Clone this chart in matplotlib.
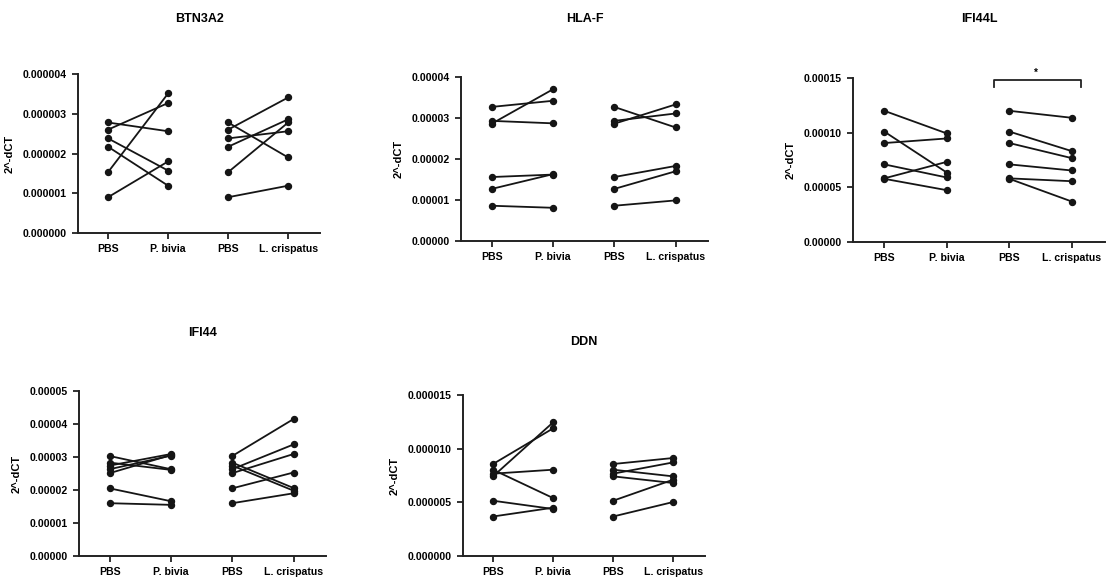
import matplotlib
matplotlib.use("Agg")
import matplotlib.pyplot as plt
from matplotlib.ticker import FormatStrFormatter

plt.rcParams['font.family'] = ['Liberation Sans', 'DejaVu Sans']
plt.rcParams['font.weight'] = 'bold'

groups = ["PBS", "P. bivia", "PBS", "L. crispatus"]

# paired values, one entry per sample
btn3a2_pbs = [2.78e-6, 2.60e-6, 2.38e-6, 2.17e-6, 1.53e-6, 0.90e-6]
btn3a2_bivia = [2.56e-6, 3.27e-6, 1.57e-6, 1.19e-6, 3.51e-6, 1.80e-6]
btn3a2_crisp = [1.90e-6, 3.41e-6, 2.56e-6, 2.86e-6, 2.78e-6, 1.19e-6]

hlaf_pbs = [3.27e-5, 2.93e-5, 2.86e-5, 1.56e-5, 1.27e-5, 0.86e-5]
hlaf_bivia = [3.42e-5, 2.87e-5, 3.70e-5, 1.62e-5, 1.63e-5, 0.81e-5]
hlaf_crisp = [2.77e-5, 3.11e-5, 3.33e-5, 1.83e-5, 1.70e-5, 0.99e-5]

ifi44l_pbs = [12.0e-5, 10.1e-5, 9.05e-5, 7.1e-5, 5.82e-5, 5.78e-5]
ifi44l_bivia = [9.93e-5, 6.35e-5, 9.47e-5, 5.90e-5, 7.33e-5, 4.74e-5]
ifi44l_crisp = [11.36e-5, 8.31e-5, 7.67e-5, 6.54e-5, 5.56e-5, 3.70e-5]

ifi44_pbs = [3.03e-5, 2.83e-5, 2.74e-5, 2.63e-5, 2.51e-5, 2.05e-5, 1.60e-5]
ifi44_bivia = [2.63e-5, 2.61e-5, 3.09e-5, 3.04e-5, 3.06e-5, 1.66e-5, 1.55e-5]
ifi44_crisp = [4.15e-5, 2.06e-5, 1.98e-5, 3.38e-5, 3.09e-5, 2.53e-5, 1.90e-5]

ddn_pbs = [8.57e-6, 8.04e-6, 7.67e-6, 7.42e-6, 5.15e-6, 3.68e-6]
ddn_bivia = [11.89e-6, 5.40e-6, 8.04e-6, 12.45e-6, 4.38e-6, 4.50e-6]
ddn_crisp = [9.13e-6, 7.42e-6, 8.72e-6, 6.80e-6, 7.11e-6, 5.03e-6]

W, H = 1107, 578
fig = plt.figure(figsize=(W / 100, H / 100), dpi=100)


def panel(px_left, px_top, px_right, px_bottom, title, title_y, pbs, bivia, crisp,
          ymax, ystep, fmt):
    ax = fig.add_axes([px_left / W, 1 - px_bottom / H,
                       (px_right - px_left) / W, (px_bottom - px_top) / H])
    for a, b, c in zip(pbs, bivia, crisp):
        ax.plot([0, 1], [a, b], '-o', color='#151515', lw=1.3, ms=4.3)
        ax.plot([2, 3], [a, c], '-o', color='#151515', lw=1.3, ms=4.3)
    ax.set_xlim(-0.5, 3.53)
    ax.set_ylim(0, ymax)
    n = int(round(ymax / ystep))
    ax.set_yticks([i * ystep for i in range(n + 1)])
    ax.yaxis.set_major_formatter(FormatStrFormatter(fmt))
    ax.set_xticks(range(4))
    ax.set_xticklabels(groups)
    ax.tick_params(labelsize=7.6, width=1.3, length=4, color='#222', pad=4)
    for s in ['top', 'right']:
        ax.spines[s].set_visible(False)
    for s in ['left', 'bottom']:
        ax.spines[s].set_linewidth(1.4)
        ax.spines[s].set_color('#222')
    ax.set_ylabel("2^-dCT", fontsize=8, fontweight='bold', labelpad=6)
    fig.text((px_left + px_right) / 2 / W, 1 - title_y / H, title,
             ha='center', va='center', fontsize=9, fontweight='bold')
    return ax


panel(78, 74, 320, 233, "BTN3A2", 19, btn3a2_pbs, btn3a2_bivia, btn3a2_crisp,
      4e-6, 1e-6, '%.6f')
panel(461, 77, 708, 241, "HLA-F", 19, hlaf_pbs, hlaf_bivia, hlaf_crisp,
      4e-5, 1e-5, '%.5f')
ax3 = panel(853, 78, 1105, 242, "IFI44L", 19, ifi44l_pbs, ifi44l_bivia, ifi44l_crisp,
            1.5e-4, 5e-5, '%.5f')
panel(79, 391, 326, 556, "IFI44", 333, ifi44_pbs, ifi44_bivia, ifi44_crisp,
      5e-5, 1e-5, '%.5f')
panel(463, 395, 705, 556, "DDN", 342, ddn_pbs, ddn_bivia, ddn_crisp,
      1.5e-5, 5e-6, '%.6f')

# significance bracket over the L. crispatus pair
ax3.plot([1.75, 1.75, 3.15, 3.15], [1.418e-4, 1.484e-4, 1.484e-4, 1.418e-4],
         color='#222', lw=1.3, clip_on=False)
ax3.text(2.42, 1.5e-4, "*", ha='center', va='bottom', fontsize=7)

plt.savefig("out.png", dpi=100)
